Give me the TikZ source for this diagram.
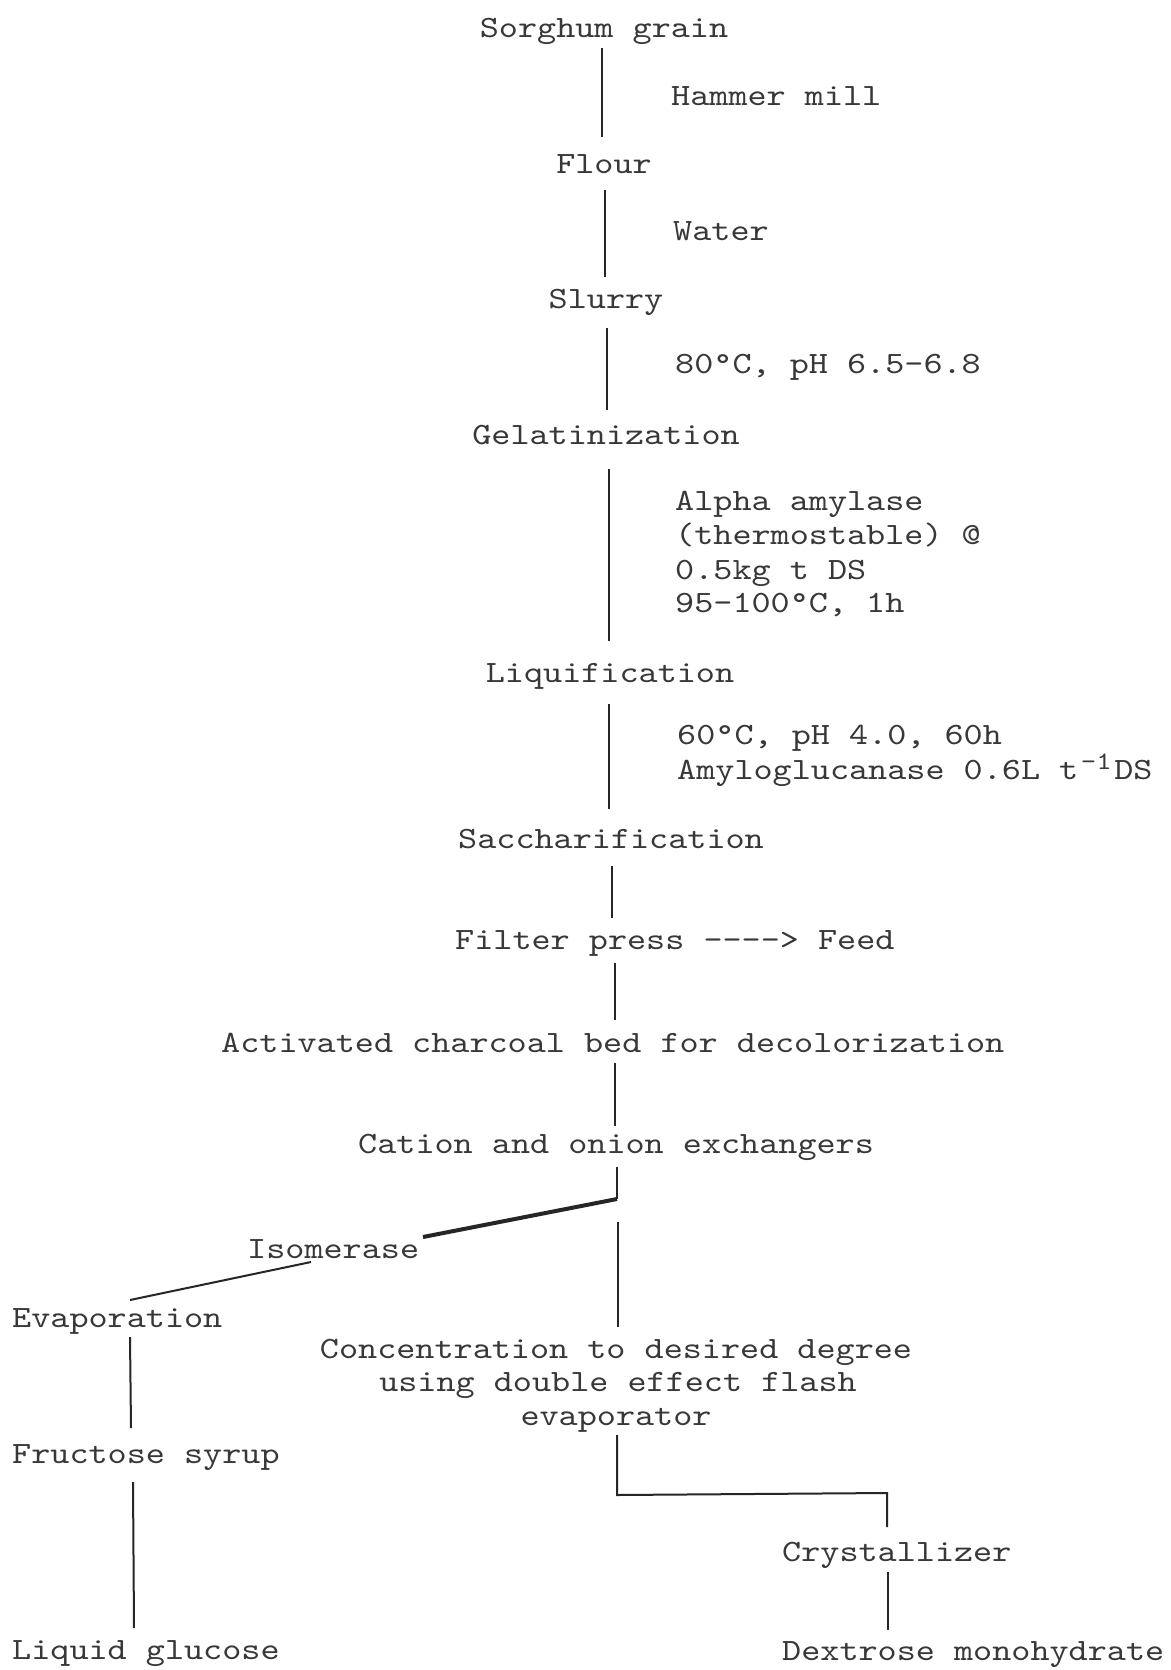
\documentclass[tikz,border=0pt]{standalone}
\usepackage{fontspec}
\setmonofont[FakeStretch=1.1736]{lmmono10-regular.otf}
\definecolor{ink}{rgb}{0.22,0.22,0.22}
\definecolor{lineink}{rgb}{0.15,0.15,0.15}
\newcommand{\supone}{\raisebox{10pt}{\makebox[36pt][c]{\fontsize{25}{25}\selectfont -1}}}
\begin{document}
\begin{tikzpicture}[x=1pt,y=-1pt,
  txt/.style={inner sep=0pt, text=ink, font=\ttfamily\fontsize{31}{34}\selectfont},
  lc/.style={txt, anchor=base},
  lw/.style={txt, anchor=base west},
  ln/.style={draw=lineink, line width=2pt},
  thickln/.style={draw=lineink, line width=4pt}]
\useasboundingbox[fill=white] (0,0) rectangle (1170,1670);

% main column
\node[lc] (sg) at (604,38) {Sorghum grain};
\node[lw] (hm) at (671,105) {Hammer mill};
\node[lc] (fl) at (604,173) {Flour};
\node[lw] (wa) at (673,240) {Water};
\node[lc] (sl) at (606,308) {Slurry};
\node[lw] (c80) at (675,373) {80°C, pH 6.5-6.8};
\node[lc] (ge) at (606,444) {Gelatinization};
\node[lw] (aa1) at (675,510) {Alpha amylase};
\node[lw] (aa2) at (675,544) {(thermostable) @};
\node[lw] (aa3) at (675,579) {0.5kg t DS};
\node[lw] (aa4) at (675,612) {95-100°C, 1h};
\node[lc] (li) at (610,682) {Liquification};
\node[lw] (c60) at (677,744) {60°C, pH 4.0, 60h};
\node[lw] (am) at (677,779) {Amyloglucanase 0.6L t\supone DS};
\node[lc] (sa) at (611,848) {Saccharification};
\node[lw] (fp) at (455,949) {Filter press ----> Feed};
\node[lw] (ac) at (221,1052) {Activated charcoal bed for decolorization};
\node[lw] (ca) at (358,1153) {Cation and onion exchangers};

% left branch
\node[lw] (is) at (247,1258) {Isomerase};
\node[lw] (ev) at (12,1327) {Evaporation};
\node[lw] (fs) at (12,1463) {Fructose syrup};
\node[lw] (lg) at (12,1659) {Liquid glucose};

% right branch
\node[lc] (co1) at (616,1358) {Concentration to desired degree};
\node[lc] (co2) at (618,1391) {using double effect flash};
\node[lc] (co3) at (616,1425) {evaporator};
\node[lw] (cr) at (782,1561) {Crystallizer};
\node[lw] (dm) at (782,1660) {Dextrose monohydrate};

% connector end points
\coordinate (p1a) at (602,48);   \coordinate (p1b) at (602,137);
\coordinate (p2a) at (605,190);  \coordinate (p2b) at (605,277);
\coordinate (p3a) at (607,328);  \coordinate (p3b) at (607,410);
\coordinate (p4a) at (609,469);  \coordinate (p4b) at (609,641);
\coordinate (p5a) at (609,704);  \coordinate (p5b) at (609,809);
\coordinate (p6a) at (612,866);  \coordinate (p6b) at (612,918);
\coordinate (p7a) at (615,963);  \coordinate (p7b) at (615,1020);
\coordinate (p8a) at (615,1063); \coordinate (p8b) at (615,1126);
\coordinate (p9a) at (617,1167); \coordinate (p9b) at (617,1199);
\coordinate (isr) at (423,1237);
\coordinate (isl) at (311,1262); \coordinate (evt) at (130,1300);
\coordinate (rva) at (618,1222); \coordinate (rvb) at (618,1327);
\coordinate (eva) at (130,1337); \coordinate (evb) at (131,1428);
\coordinate (fsa) at (133,1482); \coordinate (fsb) at (134,1628);
\coordinate (cba) at (617,1435); \coordinate (cbb) at (617,1495);
\coordinate (cbc) at (887,1493); \coordinate (cbd) at (887,1527);
\coordinate (cra) at (888,1572); \coordinate (crb) at (888,1630);

\draw[ln] (p1a) -- (p1b);
\draw[ln] (p2a) -- (p2b);
\draw[ln] (p3a) -- (p3b);
\draw[ln] (p4a) -- (p4b);
\draw[ln] (p5a) -- (p5b);
\draw[ln] (p6a) -- (p6b);
\draw[ln] (p7a) -- (p7b);
\draw[ln] (p8a) -- (p8b);
\draw[ln] (p9a) -- (p9b);
\draw[thickln] (p9b) -- (isr);
\draw[ln] (isl) -- (evt);
\draw[ln] (rva) -- (rvb);
\draw[ln] (eva) -- (evb);
\draw[ln] (fsa) -- (fsb);
\draw[ln] (cba) -- (cbb) -- (cbc) -- (cbd);
\draw[ln] (cra) -- (crb);
\end{tikzpicture}
\end{document}
